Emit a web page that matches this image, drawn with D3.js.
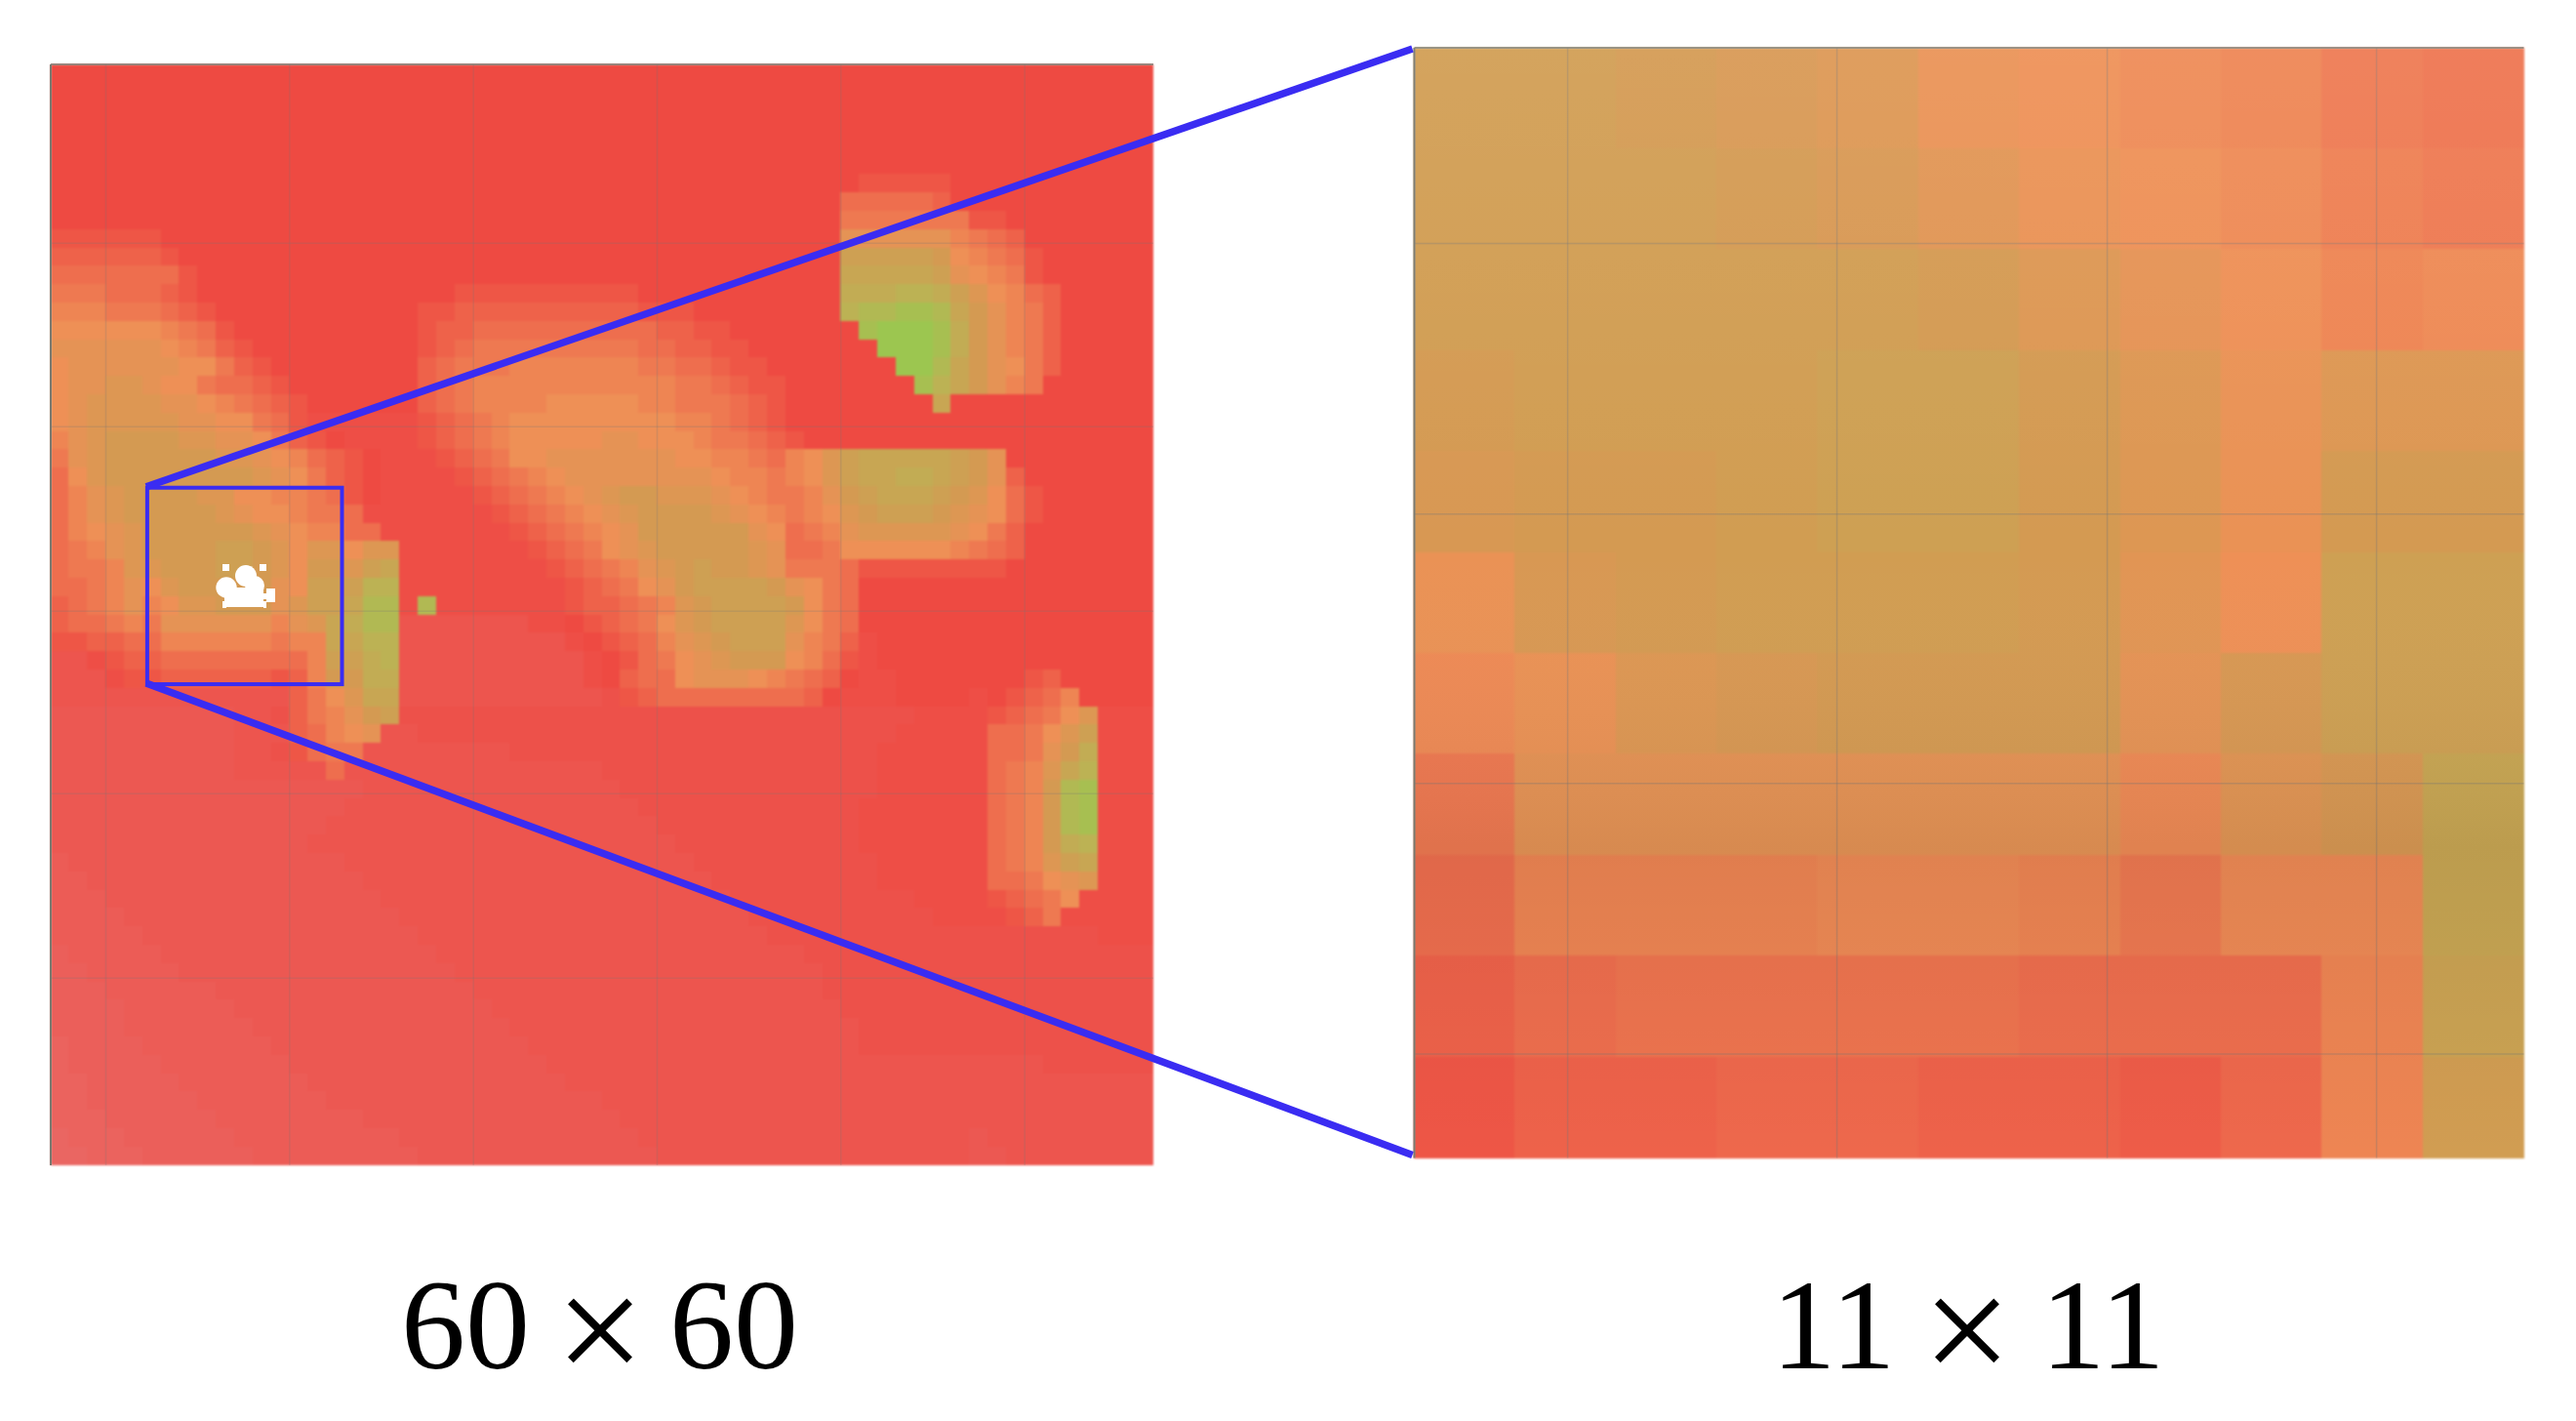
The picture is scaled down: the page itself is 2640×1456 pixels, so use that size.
<!DOCTYPE html>
<html>
<head>
<meta charset="utf-8">
<script src="https://cdn.jsdelivr.net/npm/d3@7"></script>
<style>
  html, body { margin: 0; background: #fff; }
  svg { display: block; }
</style>
</head>
<body>
<div id="chart"></div>
<script>
// 60 x 60 cells, one character per cell (base 36 level)
// v w x y are the half levels of the background, see halfLevels
var rows60 = [
  "4444444444 4444444444 4444444444 4444444444 4444444444 4444444444",
  "4444444444 4444444444 4444444444 4444444444 4444444444 4444444444",
  "4444444444 4444444444 4444444444 4444444444 4444444444 4444444444",
  "4444444444 4444444444 4444444444 4444444444 4444444444 4444444444",
  "4444444444 4444444444 4444444444 4444444444 4444444444 4444444444",
  "4444444444 4444444444 4444444444 4444444444 4444444444 4444444444",
  "4444444444 4444444444 4444444444 4444444444 4444555554 4444444444",
  "4444444444 4444444444 4444444444 4444444444 4447777764 4444444444",
  "4444444444 4444444444 4444444444 4444444444 4448888888 5544444444",
  "5555554444 4444444444 4444444444 4444444444 444bbbbbb9 8764444444",
  "6666665444 4444444444 4444444444 4444444444 444eeeeeda 9875444444",
  "7777777544 4444444444 4444444444 4444444444 444fffffeb a985444444",
  "8887776544 4444444444 4455555555 5544444444 444ggghhge ca97644444",
  "9998887654 4444444444 5566666666 6655544444 444hiijjif db98644444",
  "aaaaaa9875 4444444444 5667777777 7776655444 4444jkkkjg db98644444",
  "bbbbbba986 5444444444 5678888888 8877665544 44444kkkjg db98644444",
  "abbbbbbaa8 6544444444 6788899999 9988776554 444444kkif dba8644444",
  "abbccbaa87 7654444444 6789999999 9999887655 4444444jhf db98444444",
  "abccccbba9 8765444444 6789999aaa aa99888765 44444444f4 4444444444",
  "abcccccbba a875vvvvvv 56789aaaaa aaaa998765 4444444444 4444444444",
  "9bcddddccb ba8654vvvv 56789aaaaa bbaaa98876 5444444444 4444444444",
  "8bcddddddc cba97654vv v5678aabbb bbbbaa9987 9acefffffe db44444444",
  "7acddddddd dcba8654vv vv56789abb bbbbbba998 9aceffggfe db64444444",
  "79bcddddcc aa998754vv vvv56789ab cddcccba98 89bdefffed ca75444444",
  "79bcdddddc baa9887vvv vvvv56789a bcddddcba9 89acdeeedc ba75444444",
  "79abcddddd dcba9977vv vvvvv56789 abddddddba 789bcccccb a864444444",
  "789bcdddde edcaccaccv vvvvvv5678 abcdddddcb 778aaaaaa9 8764444444",
  "7889ccddde edcaddcefv vvvvvvv567 89bcdeddcb 8887555555 5544444444",
  "7789bacddd ddbaeeehhv vvvvvvvv56 78abdeeeed ba87444444 4444444444",
  "6789b9accd ddbceefiiv ivvvvvvv56 6789cdeeee da87444444 4444444444",
  "677898bbbb bb9bcfgiiw wwwwwwvv45 678acdeeee ca87444444 4444444444",
  "5566779999 99899ffhhw wwwwwwwwv4 5679bcdeee b986v44444 4444444444",
  "wwv5667777 77779eeghw wwwwwwwwwv 4578abcddd a975v44444 4444444444",
  "wwwv556666 66569ddggw wwwwwwwwwv 4677abbba9 8764vv4444 4445644444",
  "wwwwwwwwww www68acffw wwwwwwwwww 3567777777 764vvv4444 v456794444",
  "2222222222 ww3689bde3 3333333333 3333333333 3333333vvv v5678acvvv",
  "2222222222 www679abww 3333333333 3333333333 333333vvvv v778acevvv",
  "2222222222 ww35788www wwwww33333 3333333333 33333vvvvv v778bdgvvv",
  "2222222222 wwwww7wwww wwwwwwwwww 3333333333 33333vvvvv v789cfhvvv",
  "2222222222 2222222www wwwwwwwwww w333333333 33333vvvvv v789dijvvv",
  "2222222222 222222wwww wwwwwwwwww ww33333333 3333vvvvvv v789dijvvv",
  "2222222222 22222wwwww wwwwwwwwww www3333333 3333vvvvvv v789dijvvv",
  "2222222222 2222wwwwww wwwwwwwwww wwww333333 3333vvvvvv v789dghvvv",
  "x222222222 222222wwww wwwwwwwwww wwwww33333 33333vvvvv v789cefvvv",
  "xx22222222 2222222www wwwwwwwwww wwwwww3333 33333vvvvv v778abcvvv",
  "xxx2222222 22222222ww wwwwwwwwww wwwwwww333 3333333vvv v5678avvvv",
  "xxxx222222 222222222w wwwwwwwwww wwwwwwww33 33333333vv vv568vvvvv",
  "xxxxx22222 2222222222 wwwwwwwwww wwwwwwwww3 3333333333 3333333vvv",
  "1xxxxx2222 2222222222 2wwwwwwwww wwwwwwwwww w333333333 3333333333",
  "11xxxxx222 2222222222 22wwwwwwww wwwwwwwwww ww33333333 3333333333",
  "111xxxxxx2 2222222222 222wwwwwww wwwwwwwwww ww33333333 3333333333",
  "1111xxxxxx 2222222222 2222wwwwww wwwwwwwwww www3333333 3333333333",
  "1111xxxxxx x222222222 22222wwwww wwwwwwwwww wwww333333 3333333333",
  "y1111xxxxx xx22222222 222222wwww wwwwwwwwww wwww333333 3333333333",
  "y11111xxxx xxx2222222 2222222www wwwwwwwwww wwwwwwwwww wwww333333",
  "yy11111xxx xxxx222222 22222222ww wwwwwwwwww wwwwwwwwww wwwwwwwwww",
  "yy111111xx xxxxx22222 2222222222 wwwwwwwwww wwwwwwwwww wwwwwwwwww",
  "yyy111111x xxxxxxx222 2222222222 2wwwwwwwww wwwwwwwwww wwwwwwwwww",
  "0yyy111111 xxxxxxxxx2 2222222222 22wwwwwwww wwwwwwwwww 2wwwwwwwww",
  "00yyy11111 1xxxxxxxxx 2222222222 222wwwwwww wwwwwwwwww 22wwwwwwww"
];
var halfLevels = {v: 3.5, w: 2.5, x: 1.5, y: 0.5};

// 11 x 11 enlargement, same levels
var rows11 = [
  [13.5, 13.5, 13, 12.5, 12, 10.5, 10, 9.5, 9, 8, 7.5],
  [13.5, 13.5, 13.5, 13, 12.5, 11.5, 10.5, 10, 9.5, 8.5, 8],
  [13.5, 13.5, 13.5, 13.5, 13.5, 13, 12, 11, 10, 9, 9.5],
  [13, 13.5, 13.5, 13.5, 14, 14, 13, 12, 10.5, 12, 12],
  [12.5, 13, 13, 13.5, 14, 14, 13, 12, 10.5, 13, 13],
  [10.5, 12.5, 13, 13.5, 13.5, 13.5, 13, 11.5, 10, 14, 14],
  [9.5, 10.5, 12, 12.5, 13, 13, 13, 11, 12.5, 14, 14],
  [8, 11, 11, 11, 11, 11, 11, 9.5, 11.5, 12.5, 15],
  [7, 9, 9, 9, 9.5, 9.5, 9, 8, 9.5, 9.5, 15],
  [6, 7, 7.5, 7.5, 7.5, 7.5, 7, 7, 7, 9, 14.5],
  [5, 6, 6, 6.5, 6.5, 6, 6, 5.5, 6.5, 9, 13.5]
];

var gridCols60 = [3, 13, 23, 33, 43, 53];
var gridRows60 = [9.75, 19.75, 29.8, 39.75, 49.8];
var gridCols11 = [1.52, 4.19, 6.87, 9.54];
var gridRows11 = [1.94, 4.62, 7.29, 9.97];
var boxCols = [5.25, 15.85];
var boxRows = [23.07, 33.78];
var labelParts60 = ["60", "\u00d7", "60"];
var labelParts11 = ["11", "\u00d7", "11"];

var width = 2640, height = 1456;

var svg = d3.select("#chart").append("svg")
    .attr("width", width)
    .attr("height", height);

var color = d3.scaleLinear()
    .domain([0, 4, 7, 10, 13, 17, 20])
    .range(["#ea6662", "#ee4a42", "#ee6e4e", "#ee9056", "#d49a52", "#bcb254", "#9cc650"]);

// parse the level strings
var cells60 = rows60.map(function(r) {
  return r.replace(/ /g, "").split("").map(function(c) {
    return c in halfLevels ? halfLevels[c] : parseInt(c, 36);
  });
});

function drawPanel(cells, gridCols, gridRows, gridOpacity, x0, x1, y0, y1) {
  var n = cells.length;
  var x = d3.scaleLinear().domain([0, n]).range([x0, x1]);
  var y = d3.scaleLinear().domain([0, n]).range([y0, y1]);

  var flat = [];
  cells.forEach(function(row, i) {
    row.forEach(function(v, j) { flat.push({r: i, c: j, v: v}); });
  });

  var g = svg.append("g");

  g.append("g")
      .style("filter", "blur(1.2px)")
    .selectAll("rect")
    .data(flat)
    .enter()
    .append("rect")
      .attr("x", function(d) { return Math.floor(x(d.c)); })
      .attr("y", function(d) { return Math.floor(y(d.r)); })
      .attr("width", function(d) { return Math.ceil(x(d.c + 1)) - Math.floor(x(d.c)); })
      .attr("height", function(d) { return Math.ceil(y(d.r + 1)) - Math.floor(y(d.r)); })
      .attr("fill", function(d) { return color(d.v); });

  g.selectAll(".gx")
    .data(gridCols)
    .enter()
    .append("line")
      .attr("x1", function(d) { return x(d); })
      .attr("x2", function(d) { return x(d); })
      .attr("y1", y0)
      .attr("y2", y1)
      .attr("stroke", "#777")
      .attr("stroke-opacity", gridOpacity)
      .attr("stroke-width", 1.5);

  g.selectAll(".gy")
    .data(gridRows)
    .enter()
    .append("line")
      .attr("x1", x0)
      .attr("x2", x1)
      .attr("y1", function(d) { return y(d); })
      .attr("y2", function(d) { return y(d); })
      .attr("stroke", "#777")
      .attr("stroke-opacity", gridOpacity)
      .attr("stroke-width", 1.5);

  // dark top and left edge of the frame
  g.append("line").attr("x1", x0).attr("x2", x1).attr("y1", y0).attr("y2", y0)
      .attr("stroke", "#7a7a70").attr("stroke-width", 1.5);
  g.append("line").attr("x1", x0).attr("x2", x0).attr("y1", y0).attr("y2", y1)
      .attr("stroke", "#7a7a70").attr("stroke-width", 2);

  return {x: x, y: y};
}

var left = drawPanel(cells60, gridCols60, gridRows60, 0.22, 52, 1182, 66, 1194);
var right = drawPanel(rows11, gridCols11, gridRows11, 0.32, 1449.5, 2586.5, 49, 1186.5);

// the enlargement looks a bit lighter on top and darker towards the bottom
var shade = svg.append("defs").append("linearGradient")
    .attr("id", "shade").attr("x1", 0).attr("x2", 0).attr("y1", 0).attr("y2", 1);
shade.append("stop").attr("offset", "0%").attr("stop-color", "#fff").attr("stop-opacity", 0.07);
shade.append("stop").attr("offset", "45%").attr("stop-color", "#fff").attr("stop-opacity", 0);
shade.append("stop").attr("offset", "72%").attr("stop-color", "#000").attr("stop-opacity", 0.06);
shade.append("stop").attr("offset", "100%").attr("stop-color", "#000").attr("stop-opacity", 0);

svg.append("rect")
    .attr("x", right.x(0)).attr("y", right.y(0))
    .attr("width", right.x(11) - right.x(0))
    .attr("height", right.y(11) - right.y(0))
    .attr("fill", "url(#shade)");

// white mark in the middle of the box
var mark = svg.append("g").attr("fill", "#fff");
mark.append("circle").attr("cx", 232).attr("cy", 602).attr("r", 10.7);
mark.append("circle").attr("cx", 252).attr("cy", 590).attr("r", 11);
mark.append("circle").attr("cx", 261).attr("cy", 600).attr("r", 10);
mark.append("rect").attr("x", 230).attr("y", 602).attr("width", 40).attr("height", 20);
mark.append("rect").attr("x", 268).attr("y", 608).attr("width", 6).attr("height", 6);
mark.append("rect").attr("x", 273).attr("y", 603).attr("width", 9).attr("height", 14);
mark.append("rect").attr("x", 228).attr("y", 578).attr("width", 7).attr("height", 7);
mark.append("rect").attr("x", 266).attr("y", 578).attr("width", 7).attr("height", 7);
mark.append("rect").attr("x", 228).attr("y", 616).attr("width", 4).attr("height", 7);
mark.append("rect").attr("x", 270).attr("y", 616).attr("width", 3).attr("height", 7);

// zoom box and the two lines to the enlargement
var blue = "#3a2cf2";

svg.append("rect")
    .attr("x", left.x(boxCols[0]))
    .attr("y", left.y(boxRows[0]))
    .attr("width", left.x(boxCols[1]) - left.x(boxCols[0]))
    .attr("height", left.y(boxRows[1]) - left.y(boxRows[0]))
    .attr("fill", "none")
    .attr("stroke", blue)
    .attr("stroke-width", 4);

svg.selectAll(".zoomline")
    .data([[boxRows[0], 0.01], [boxRows[1], 10.97]])
    .enter()
    .append("line")
      .attr("x1", left.x(boxCols[0]) - 1)
      .attr("y1", function(d) { return left.y(d[0]) - 1; })
      .attr("x2", right.x(0) - 2)
      .attr("y2", function(d) { return right.y(d[1]); })
      .attr("stroke", blue)
      .attr("stroke-width", 7.5);

// the times sign is larger than the digits in the picture
function drawLabel(parts, centers) {
  svg.append("g").selectAll("text")
    .data(parts)
    .enter()
    .append("text")
      .attr("x", function(d, i) { return centers[i]; })
      .attr("y", function(d, i) { return i == 1 ? 1417 : 1402; })
      .attr("text-anchor", "middle")
      .attr("font-family", "'Liberation Serif', serif")
      .attr("font-size", function(d, i) { return i == 1 ? 162 : 132; })
      .attr("fill", "#000")
      .text(function(d) { return d; });
}

drawLabel(labelParts60, [477, 615, 752]);
drawLabel(labelParts11, [1879, 2016, 2155]);
</script>
</body>
</html>
